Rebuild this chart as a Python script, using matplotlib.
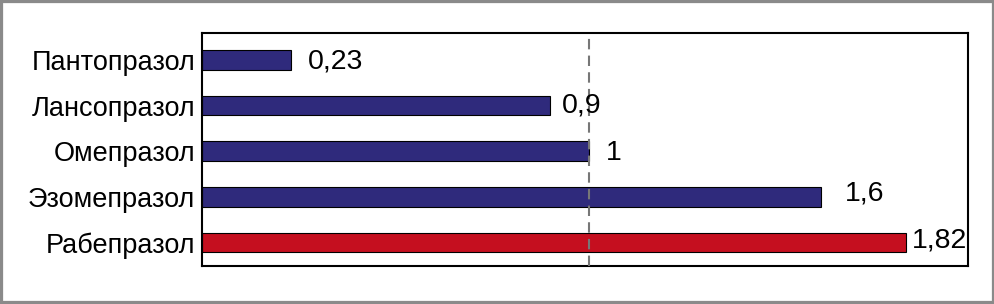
import matplotlib
matplotlib.use("Agg")
import matplotlib.pyplot as plt
from matplotlib.patches import Rectangle

drugs = ["Пантопразол", "Лансопразол", "Омепразол", "Эзомепразол", "Рабепразол"]
values = [0.23, 0.9, 1.0, 1.6, 1.82]
value_labels = ["0,23", "0,9", "1", "1,6", "1,82"]
reference_value = 1.0

colors = ["#2f2a7c", "#2f2a7c", "#2f2a7c", "#2f2a7c", "#c50f1f"]
label_dx = [17, 12, 17, 24, 6]   # pixel offsets of value labels
label_dy = [-2, 0, -2, 3, 2]

plt.rcParams['font.family'] = ['Liberation Sans', 'DejaVu Sans']

W, H = 995, 304
fig = plt.figure(figsize=(W / 100, H / 100), dpi=100)
ax = fig.add_axes([202 / W, 1 - 266 / H, (968 - 202) / W, (266 - 33) / H])

ypos = list(range(len(drugs)))
ax.barh(ypos, values, height=0.43, color=colors, edgecolor="black", linewidth=0.8, zorder=2)
ax.axvline(reference_value, color="#777777", linestyle=(0, (5, 3)), linewidth=1.5, zorder=3)

for y, v, lab, dx, dy in zip(ypos, values, value_labels, label_dx, label_dy):
    ax.annotate(lab, xy=(v, y), xytext=(dx * 0.72, dy * 0.72), textcoords="offset points",
                ha="left", va="center", fontsize=20.5, color="black", zorder=4)

ax.set_xlim(0, 1.98)
ax.set_ylim(4.515, -0.59)
ax.set_yticks(ypos)
ax.set_yticklabels(drugs, fontsize=19.5)
ax.tick_params(axis="y", length=0, pad=5)
ax.set_xticks([])
for s in ax.spines.values():
    s.set_linewidth(1.5)
    s.set_color("black")

fig.patches.append(Rectangle((0, 0), 1, 1, transform=fig.transFigure, fill=False,
                             edgecolor="#8a8a8a", linewidth=4.5))

fig.savefig("out.png", dpi=100)
